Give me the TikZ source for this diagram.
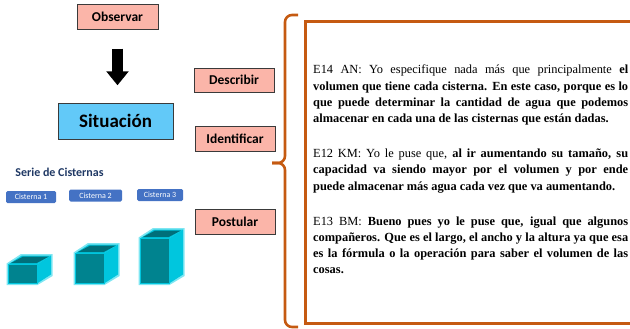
\documentclass[tikz,border=0pt]{standalone}
\usepackage{fontspec}
\setmainfont{Liberation Serif}
\newfontfamily\calibri{Carlito}
\usetikzlibrary{arrows.meta,shadows}

\definecolor{rosa}{HTML}{FBB5A9}
\definecolor{celeste}{HTML}{62C9F8}
\definecolor{gris}{HTML}{3A3A3A}
\definecolor{naranja}{HTML}{C55A11}
\definecolor{azulcis}{HTML}{4472C4}
\definecolor{marino}{HTML}{1F3864}
\definecolor{aguaosc}{HTML}{00838F}
\definecolor{aguacla}{HTML}{00C6DE}
\definecolor{aguaborde}{HTML}{7FE6F2}

\tikzset{
  etiqueta/.style={draw=gris, line width=0.8pt, fill=rosa, inner sep=0pt,
    minimum width=80pt, minimum height=25pt,
    font=\calibri\bfseries\fontsize{13.5}{16}\selectfont,
    drop shadow={shadow xshift=1.2pt, shadow yshift=-1.2pt, opacity=0.3}},
  cisterna/.style={fill=azulcis, rounded corners=1.5pt, text=white, inner sep=0pt,
    minimum height=12pt, font=\calibri\fontsize{8}{9}\selectfont},
  llave/.style={draw=naranja, line width=2.6pt, rounded corners=7pt},
  flecha/.style={line width=10.7pt, -{Triangle[length=14pt,width=21.6pt]}},
}

% open box: left x, bottom y, front height (y grows downwards)
\newcommand{\caja}[3]{%
  % soft outline
  \fill[aguaborde] (#1-1.5,#2+1.5) -- (#1-1.5,#2-#3-1) -- (#1+13,#2-#3-10.5)
    -- (#1+44.5,#2-#3-10.5) -- (#1+44.5,#2-7.5) -- (#1+29.5,#2+1.5) -- cycle;
  % front face
  \fill[aguaosc] (#1,#2) rectangle (#1+29,#2-#3);
  % right side
  \fill[aguacla] (#1+29,#2) -- (#1+43,#2-9) -- (#1+43,#2-#3-9) -- (#1+29,#2-#3) -- cycle;
  % rim and opening
  \fill[aguacla] (#1,#2-#3) -- (#1+14,#2-#3-9) -- (#1+43,#2-#3-9) -- (#1+29,#2-#3) -- cycle;
  \fill[aguaosc!85!black] (#1+2.8,#2-#3-1.4) -- (#1+14.8,#2-#3-7.8) -- (#1+40.6,#2-#3-7.8)
    -- (#1+28.6,#2-#3-1.4) -- cycle;
  \draw[aguacla, line width=1pt] (#1,#2) rectangle (#1+29,#2-#3);
}

\begin{document}
\begin{tikzpicture}[x=1pt, y=-1pt]
    \path[use as bounding box] (0,0) rectangle (630,329);
    \clip (0,0) rectangle (630,329);

    % Steps on the left
    \node[etiqueta, minimum width=81pt] (observar) at (117.5,16.5) {Observar};
    \node[etiqueta, fill=celeste, minimum width=115pt, minimum height=36pt,
      font=\calibri\bfseries\fontsize{19}{22}\selectfont] (situacion) at (115.5,121) {Situación};
    \node[etiqueta, minimum height=24pt] (describir) at (234,80) {Describir};
    \node[etiqueta] (identificar) at (235,138.5) {Identificar};
    \node[etiqueta] (postular) at (235,221.5) {Postular};

    % Thick arrow from Observar down to Situacion
    \draw[flecha, shorten <=19.3pt, shorten >=17.3pt]
      (observar.south) -- (observar.south |- situacion.north);

    % Title of the series
    \node[text=marino, font=\calibri\bfseries\fontsize{12}{14}\selectfont]
      (serie) at (59.5,172) {Serie de Cisternas};

    % Labels of the three cisterns
    \node[cisterna, minimum width=50pt] (cis1) at (31,197) {Cisterna 1};
    \node[cisterna, minimum width=53pt] (cis2) at (95.5,195.5) {Cisterna 2};
    \node[cisterna, minimum width=46pt] (cis3) at (160,195) {Cisterna 3};

    % The cisterns themselves
    \caja{8}{283.5}{19}
    \caja{75}{283.5}{30}
    \caja{140}{283.5}{45}

    % Brace
    \draw[llave] (298,15) -- (285,15) -- (285,163) -- (272,163);
    \draw[llave] (272,163) -- (285,163) -- (285,327) -- (298,327);

    % Frame round the answers (open to the right)
    \draw[naranja, line width=3pt] (640,22) -- (305,22) -- (305,323.5) -- (640,323.5);

    % Answers of the students
    \node[anchor=north west, inner sep=0pt, text width=315pt, align=justify,
      font=\fontsize{12.4}{16.2}\selectfont] (respuestas) at (313,65) {\parindent=0pt
      E14 AN: Yo especifique nada más que principalmente \textbf{el\linebreak
      volumen que tiene cada cisterna. En este caso, porque es lo\linebreak
      que puede determinar la cantidad de agua que podemos\linebreak
      almacenar en cada una de las cisternas que están dadas.}\par\vskip19pt
      E12 KM: Yo le puse que, \textbf{al ir aumentando su tamaño, su\linebreak
      capacidad va siendo mayor por el volumen y por ende\linebreak
      puede almacenar más agua cada vez que va aumentando.}\par\vskip19pt
      E13 BM: \textbf{Bueno pues yo le puse que, igual que algunos\linebreak
      compañeros. Que es el largo, el ancho y la altura ya que esa\linebreak
      es la fórmula o la operación para saber el volumen de las\linebreak
      cosas.}};
\end{tikzpicture}
\end{document}
